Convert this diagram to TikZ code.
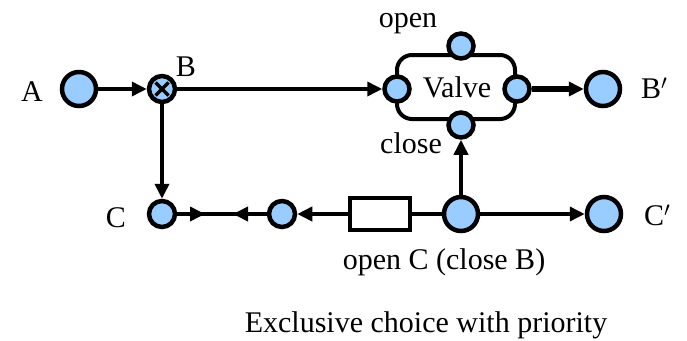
\documentclass[tikz,border=0pt]{standalone}
\usepackage{fontspec}
\setmainfont{Liberation Serif}
\usetikzlibrary{arrows.meta}
\definecolor{placefill}{RGB}{153,204,255}
\begin{document}
\begin{tikzpicture}[x=1pt,y=-1pt,
  every node/.style={font=\fontsize{30}{36}\selectfont},
  place/.style={circle,draw=black,fill=placefill,line width=4.5pt,inner sep=0pt,minimum size=#1},
  place/.default=34pt,
  port/.style={place=25pt},
  arr/.style={line width=3.6pt,-{Triangle[length=15pt,width=14pt]}},
  plain/.style={line width=3.6pt},
  lbl/.style={inner sep=0pt}]
\useasboundingbox (0,0) rectangle (687,340);

% valve component: rounded body with four ports
\draw[line width=4pt,rounded corners=15pt] (397,55) rectangle (515,119);
\node[lbl,anchor=base] (valvetxt) at (457,97) {Valve};
\node[port] (vin)    at (397,89) {};
\node[port] (vout)   at (517,89) {};
\node[port] (vopen)  at (461,46) {};
\node[port] (vclose) at (461,125) {};
\node[lbl,anchor=base] (openlbl) at (408,27) {open};
\node[lbl,anchor=base] (closelbl) at (411,153) {close};

% places
\node[place] (A)  at (79,89) {};
\node[place=26pt] (B) at (162,89) {};
\draw[line width=3.4pt] ([shift={(-6.5,-6.5)}]B.center) -- ([shift={(6.5,6.5)}]B.center)
                        ([shift={(-6.5,6.5)}]B.center) -- ([shift={(6.5,-6.5)}]B.center);
\node[place] (Bp) at (603,89) {};
\node[place=26pt] (C) at (162,214) {};
\node[place=26pt] (M) at (282,214) {};
\node[place] (D)  at (461,214) {};
\node[place] (Cp) at (604,214) {};
\node[draw,line width=4pt,minimum width=60pt,minimum height=32pt,inner sep=0pt] (R) at (380,214) {};

% labels
\node[lbl] (Albl) at (32,92) {A};
\node[lbl] (Blbl) at (186,67) {B};
\node[lbl] (Clbl) at (116,218) {C};
\node[lbl,anchor=west] (Bplbl) at (641,88) {B$'$};
\node[lbl,anchor=west] (Cplbl) at (644,215) {C$'$};
\node[lbl,anchor=base] (rlbl) at (444,269) {open C (close B)};
\node[lbl,anchor=base] (caption) at (426,332) {Exclusive choice with priority};

% connectors
\coordinate (p1) at (205,214);
\coordinate (p2) at (233,214);
\draw[arr] (A) -- (B);
\draw[arr] (B) -- (vin);
\draw[arr] (B) -- (C);
\draw[plain] (C) -- (M);
\draw[arr] (C) -- (p1);
\draw[arr] (M) -- (p2);
\draw[arr] (R) -- (M);
\draw[plain] (D) -- (R);
\draw[arr] (D) -- (Cp);
\draw[arr] (D) -- (vclose);
\draw[line width=5.5pt,-{Triangle[length=15pt,width=14pt]}] (vout) -- (Bp);
\end{tikzpicture}
\end{document}
